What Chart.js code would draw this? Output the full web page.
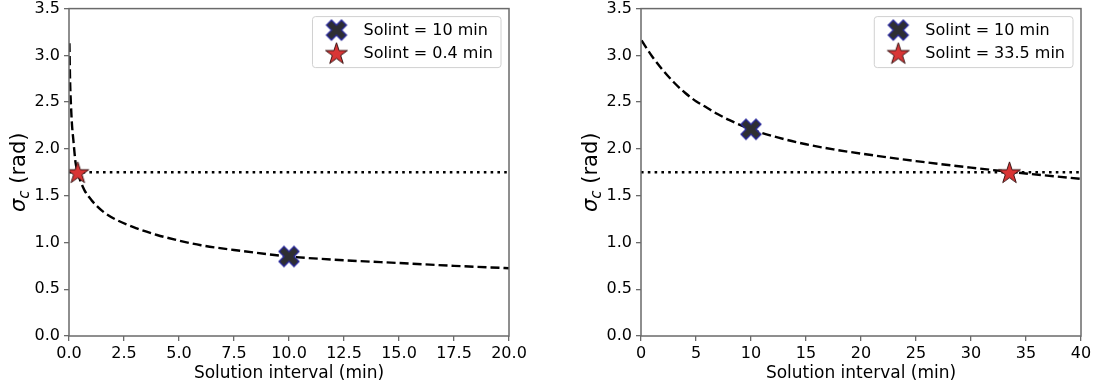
<!DOCTYPE html>
<html><head><meta charset="utf-8">
<script src="https://cdn.jsdelivr.net/npm/chart.js@4.4.1/dist/chart.umd.min.js"></script>
<style>
html,body{margin:0;padding:0;background:#fff;}
#wrap{position:relative;width:1098px;height:390px;overflow:hidden;}
canvas{position:absolute;top:-5px;}
</style></head><body>
<div id="wrap">
<canvas id="c1" width="549" height="396" style="left:0;width:549px;height:396px"></canvas>
<canvas id="c2" width="549" height="396" style="left:549px;width:549px;height:396px"></canvas>
</div>
<script>
// ---- data ----
const leftT     = [0.02, 0.05, 0.08, 0.13, 0.2, 0.3, 0.4, 0.5, 0.7, 1.03, 1.55, 2.17, 3.08, 4, 5, 6, 7.5, 10, 12.5, 15, 17.5, 20];
const leftSigma = [3.13, 2.72, 2.52, 2.28, 2.09, 1.85, 1.75, 1.67, 1.56, 1.45, 1.33, 1.24, 1.15, 1.08, 1.02, 0.97, 0.92, 0.85, 0.81, 0.78, 0.75, 0.725];
const rightT     = [0.05, 1, 2, 3, 4, 5, 6, 7, 8, 10, 12.5, 15, 17.5, 20, 25, 30, 33.5, 40];
const rightSigma = [3.16, 2.99, 2.84, 2.71, 2.60, 2.51, 2.44, 2.37, 2.31, 2.21, 2.12, 2.05, 1.995, 1.95, 1.87, 1.80, 1.755, 1.68];
const threshold = 1.75;
const leftCross  = [10, 0.85];
const leftStar   = [0.4, 1.75];
const rightCross = [10, 2.21];
const rightStar  = [33.5, 1.75];
const leftLabels  = ['Solint = 10 min', 'Solint = 0.4 min'];
const rightLabels = ['Solint = 10 min', 'Solint = 33.5 min'];
const leftXTicks  = [0, 2.5, 5, 7.5, 10, 12.5, 15, 17.5, 20];
const rightXTicks = [0, 5, 10, 15, 20, 25, 30, 35, 40];
const yTicks = [0, 0.5, 1, 1.5, 2, 2.5, 3, 3.5];
const xTitle = 'Solution interval (min)';

// ---- marker images ----
function makeCross(size){
  const c=document.createElement('canvas'); const s=size+4; c.width=s; c.height=s;
  const g=c.getContext('2d');
  const pts=[[0.25,0],[0.5,0.25],[0.75,0],[1,0.25],[0.75,0.5],[1,0.75],[0.75,1],[0.5,0.75],[0.25,1],[0,0.75],[0.25,0.5],[0,0.25]];
  g.beginPath();
  pts.forEach((p,i)=>{const x=2+p[0]*size,y=2+p[1]*size; i?g.lineTo(x,y):g.moveTo(x,y);});
  g.closePath(); g.fillStyle='#2e2e33'; g.fill();
  g.lineWidth=1.3; g.strokeStyle='#2a2a9a'; g.lineJoin='miter'; g.stroke();
  return c;
}
function makeStar(R){
  const c=document.createElement('canvas'); const s=Math.ceil(2*R+4); c.width=s; c.height=s;
  const g=c.getContext('2d'); const cx=s/2, cy=s/2+1; const r=R*0.382;
  g.beginPath();
  for(let i=0;i<10;i++){const a=-Math.PI/2+i*Math.PI/5; const rr=i%2?r:R; const x=cx+rr*Math.cos(a), y=cy+rr*Math.sin(a); i?g.lineTo(x,y):g.moveTo(x,y);}
  g.closePath(); g.fillStyle='#d93535'; g.fill();
  g.lineWidth=1; g.strokeStyle='#3a1515'; g.stroke();
  return c;
}
const crossImg=makeCross(20);
const starImg=makeStar(11.5);

const axisColor='#6a6a6a';
const frame={id:'frame',afterDatasetsDraw(chart){
  const a=chart.chartArea, g=chart.ctx; g.save(); g.strokeStyle=axisColor; g.lineWidth=1.5;
  g.strokeRect(a.left,a.top,a.right-a.left,a.bottom-a.top); g.restore();
}};
const legendPl={id:'lg',afterDraw(chart){
  const o=chart.options.plugins.lg; const a=chart.chartArea, g=chart.ctx; g.save();
  g.font='16px "DejaVu Sans"';
  const tw=Math.max(...o.labels.map(t=>g.measureText(t).width));
  const w=51+tw+8, h=51, x=a.right-8-w, y=a.top+8;
  g.beginPath(); g.roundRect(x,y,w,h,3); g.fillStyle='rgba(255,255,255,0.85)'; g.fill();
  g.strokeStyle='#d0d0d0'; g.lineWidth=1; g.stroke();
  const imgs=[crossImg,starImg];
  o.labels.forEach((t,i)=>{const cy=y+13.5+i*23; const im=imgs[i];
    g.drawImage(im,x+24-im.width/2,cy-im.height/2);
    g.fillStyle='#000'; g.textBaseline='middle'; g.fillText(t,x+51,cy+1);});
  g.restore();
}};
const yTitlePl={id:'yt',afterDraw(chart){
  const o=chart.options.plugins.yt; const a=chart.chartArea, g=chart.ctx; g.save();
  g.translate(o.x,(a.top+a.bottom)/2); g.rotate(-Math.PI/2);
  const f1='italic 21px "DejaVu Sans"', f2='italic 15px "DejaVu Sans"', f3='21px "DejaVu Sans"';
  g.font=f1; const w1=g.measureText('σ').width; g.font=f2; const w2=g.measureText('c').width; g.font=f3; const w3=g.measureText(' (rad)').width;
  let x=-(w1+w2+w3)/2; g.fillStyle='#000'; g.textBaseline='middle';
  g.font=f1; g.fillText('σ',x,0); x+=w1;
  g.font=f2; g.fillText('c',x,5); x+=w2;
  g.font=f3; g.fillText(' (rad)',x,0);
  g.restore();
}};

function build(id,o){
  const curve=o.t.map((t,i)=>({x:t,y:o.s[i]}));
  return new Chart(document.getElementById(id),{
    type:'scatter',
    data:{datasets:[
      {data:curve,showLine:true,borderColor:'#000',borderWidth:2.4,borderDash:[9,4],pointRadius:0,cubicInterpolationMode:'monotone',order:3},
      {data:[{x:o.xmin,y:threshold},{x:o.xmax,y:threshold}],showLine:true,borderColor:'#000',borderWidth:2.6,borderDash:[2.6,4.2],pointRadius:0,order:4},
      {label:o.labels[0],data:[{x:o.cross[0],y:o.cross[1]}],pointStyle:crossImg,pointRadius:11,order:1},
      {label:o.labels[1],data:[{x:o.star[0],y:o.star[1]}],pointStyle:starImg,pointRadius:11,order:0}
    ]},
    options:{responsive:false,animation:false,
      layout:{padding:{left:0,right:o.padR,top:3,bottom:0}},
      plugins:{legend:{display:false},tooltip:{enabled:false},lg:{labels:o.labels},yt:{x:o.ytx}},
      scales:{
        x:{type:'linear',min:o.xmin,max:o.xmax,
          afterBuildTicks:s=>{s.ticks=o.xTicks.map(v=>({value:v}));},
          ticks:{font:{family:'DejaVu Sans',size:16},color:'#000',padding:3,maxRotation:0,autoSkip:false,callback:v=>o.fmt(v)},
          grid:{drawOnChartArea:false,tickLength:5,color:axisColor,lineWidth:1.3},
          border:{display:false},
          title:{display:true,text:xTitle,font:{family:'DejaVu Sans',size:17},color:'#000',padding:{top:0,bottom:7}},
          afterFit:s=>{s.height=55;}},
        y:{type:'linear',min:0,max:3.5,
          afterBuildTicks:s=>{s.ticks=yTicks.map(v=>({value:v}));},
          ticks:{font:{family:'DejaVu Sans',size:16},color:'#000',padding:4,callback:v=>v.toFixed(1)},
          grid:{drawOnChartArea:false,tickLength:5,color:axisColor,lineWidth:1.3},
          border:{display:false},
          afterFit:s=>{s.width=o.yw;}}
      }},
    plugins:[frame,legendPl,yTitlePl]
  });
}
build('c1',{t:leftT,s:leftSigma,xmin:0,xmax:20,xTicks:leftXTicks,fmt:v=>v.toFixed(1),cross:leftCross,star:leftStar,labels:leftLabels,padR:40,yw:69,ytx:20});
build('c2',{t:rightT,s:rightSigma,xmin:0,xmax:40,xTicks:rightXTicks,fmt:v=>String(v),cross:rightCross,star:rightStar,labels:rightLabels,padR:17,yw:92,ytx:43});
</script>
</body></html>
